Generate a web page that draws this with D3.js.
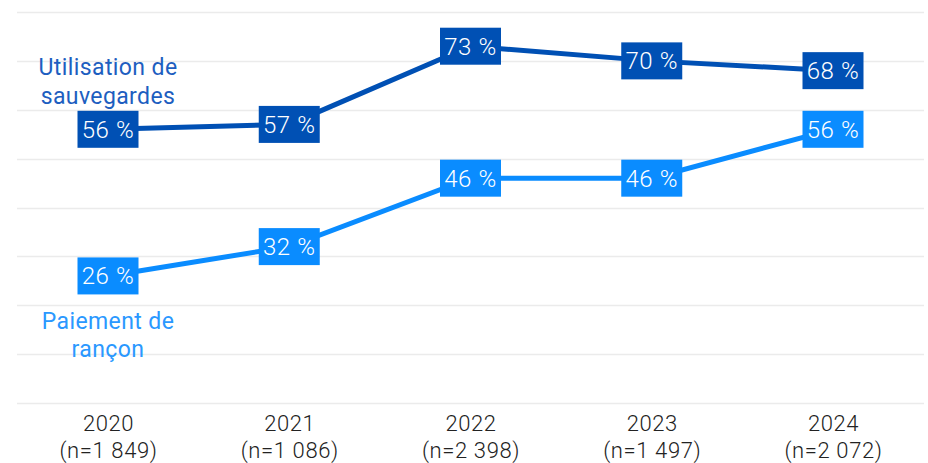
<!DOCTYPE html>
<html><head><meta charset="utf-8">
<script src="https://cdn.jsdelivr.net/npm/d3@7"></script>
<style>
html,body{margin:0;padding:0;background:#fff;}
svg{display:block;font-family:Roboto, "Noto Sans", sans-serif;}
</style></head>
<body><svg id="c" width="928" height="463"></svg>
<script>
const years = ["2020","2021","2022","2023","2024"];
const samples = ["(n=1 849)","(n=1 086)","(n=2 398)","(n=1 497)","(n=2 072)"];
const backups = [56,57,73,70,68];
const ransom = [26,32,46,46,56];
const seriesNames = [["Utilisation de","sauvegardes"],["Paiement de","rançon"]];
const yTicks = [0,10,20,30,40,50,60,70,80];

const svg = d3.select("#c");
const x = d3.scalePoint().domain(years).range([108,833]);
const y = d3.scaleLinear().domain([0,80]).range([403,12]);

const colors = {dark:"#0050b4", light:"#0a8cff"};

// grid
svg.append("g").selectAll("line").data(yTicks).join("line")
  .attr("x1",17).attr("x2",924)
  .attr("y1",d=>Math.round(y(d))+0.5).attr("y2",d=>Math.round(y(d))+0.5)
  .attr("stroke","#ebebeb").attr("stroke-width",1.5);

const series = [
  {vals:backups,color:colors.dark,text:"#1d5ec0"},
  {vals:ransom,color:colors.light,text:"#2a98ff"}
];
const line = d3.line().x((d,i)=>x(years[i])).y(d=>y(d));
series.forEach(s=>{
  svg.append("path").datum(s.vals).attr("d",line)
    .attr("fill","none").attr("stroke",s.color).attr("stroke-width",5);
});
series.forEach(s=>{
  const g = svg.append("g").selectAll("g").data(s.vals).join("g")
    .attr("transform",(d,i)=>`translate(${x(years[i])},${y(d)})`);
  g.append("rect").attr("x",-30.5).attr("y",-18.5).attr("width",61).attr("height",37).attr("fill",s.color);
  g.append("text").attr("text-anchor","middle").attr("y",8.5).attr("fill","#fff")
    .attr("font-size",24).attr("font-weight",300).attr("letter-spacing",0.6).text(d=>d+" %");
});

// series labels
const lbl1 = svg.append("text").attr("text-anchor","middle").attr("fill",series[0].text).attr("font-size",23).attr("letter-spacing",0.4);
lbl1.append("tspan").attr("x",x(years[0])).attr("y",75).text(seriesNames[0][0]);
lbl1.append("tspan").attr("x",x(years[0])).attr("y",104).text(seriesNames[0][1]);
const lbl2 = svg.append("text").attr("text-anchor","middle").attr("fill",series[1].text).attr("font-size",23).attr("letter-spacing",0.4);
lbl2.append("tspan").attr("x",x(years[0])).attr("y",329).text(seriesNames[1][0]);
lbl2.append("tspan").attr("x",x(years[0])).attr("y",357).text(seriesNames[1][1]);

// x axis
const ax = svg.append("g").attr("transform","translate(0,403)")
  .call(d3.axisBottom(x).tickSize(0).tickPadding(0).tickFormat(()=>""));
ax.select(".domain").remove();
ax.selectAll(".tick text").remove();
ax.selectAll(".tick").each(function(d,i){
  const g = d3.select(this);
  const style = t => t.attr("text-anchor","middle").attr("fill","#222")
    .attr("font-size",22).attr("font-weight",300).attr("letter-spacing",0.6)
    .attr("font-family","Roboto, sans-serif");
  style(g.append("text").attr("x",0).attr("y",28)).text(d);
  style(g.append("text").attr("x",0).attr("y",55)).text(samples[i]);
});
</script></body></html>
